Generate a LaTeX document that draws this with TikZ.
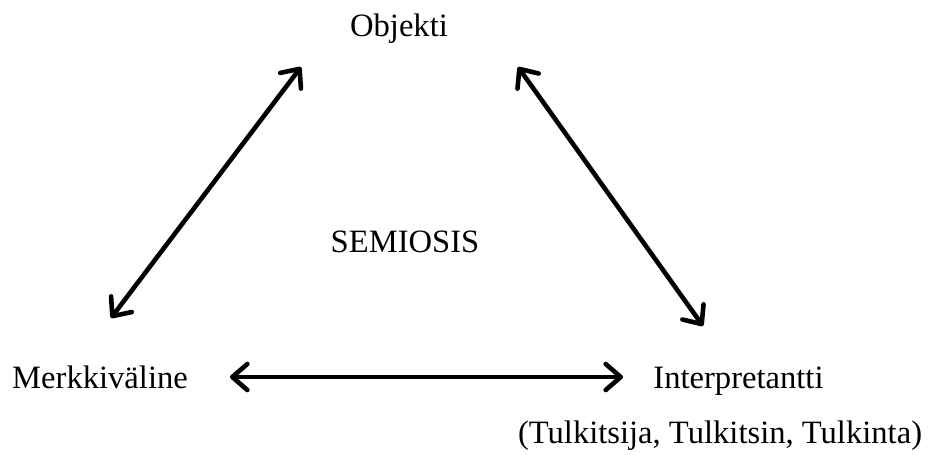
\documentclass[tikz,border=0pt]{standalone}
\usepackage{fontspec}
\setmainfont{Liberation Serif}
\usetikzlibrary{arrows.meta}
\tikzset{
  label/.style={anchor=base,inner sep=0pt,font=\fontsize{16.3}{19}\selectfont},
  twoway/.style={line width=2.3pt,line cap=round,
    {Straight Barb[length=7.5pt,width=13pt,line width=2.3pt,round]}-{Straight Barb[length=7.5pt,width=13pt,line width=2.3pt,round]}}
}
\begin{document}
\begin{tikzpicture}[x=0.5pt,y=-0.5pt]
\useasboundingbox (0,0) rectangle (929,454);

% corners of the triangle
\node[label] (obj) at (399,37) {Objekti};
\node[label] (merk) at (100,388) {Merkkiväline};
\node[label,anchor=base west] (interp) at (653,388) {Interpretantti};
\node[label] (tulk) at (720,443) {(Tulkitsija, Tulkitsin, Tulkinta)};
\node[label] (sem) at (405,252) {SEMIOSIS};

% arrow ends
\coordinate (objL) at (301,67);
\coordinate (objR) at (518,67);
\coordinate (merkT) at (111,318);
\coordinate (merkR) at (230,377);
\coordinate (interpT) at (703,326);
\coordinate (interpL) at (623,377);

\draw[twoway] (objL) -- (merkT);
\draw[twoway] (objR) -- (interpT);
\draw[twoway] (merkR) -- (interpL);
\end{tikzpicture}
\end{document}
